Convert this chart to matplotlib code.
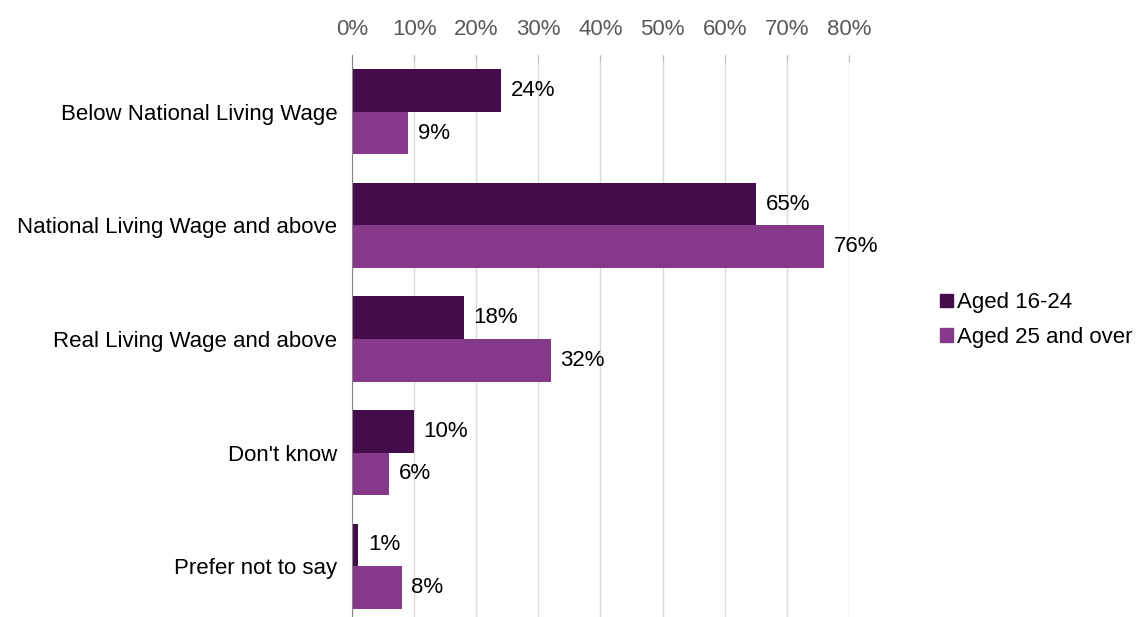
import numpy as np
import matplotlib.pyplot as plt
from matplotlib.patches import Patch

plt.rcParams['font.family'] = ['Liberation Sans', 'DejaVu Sans']

categories = ['Below National Living Wage', 'National Living Wage and above',
              'Real Living Wage and above', "Don't know", 'Prefer not to say']
young = [24, 65, 18, 10, 1]
older = [9, 76, 32, 6, 8]
series_names = ['Aged 16-24', 'Aged 25 and over']
tick_values = [0, 10, 20, 30, 40, 50, 60, 70, 80]

dark = '#440c4b'
light = '#86388a'
fs = 16

fig = plt.figure(figsize=(11.42, 6.17), dpi=100)
ax = fig.add_axes([0.3082, -0.0097, 0.4352, 0.9206])

y = np.arange(len(categories))
h = 0.375
b1 = ax.barh(y - h / 2, young, height=h, color=dark, zorder=3)
b2 = ax.barh(y + h / 2, older, height=h, color=light, zorder=3)

for bars, vals in ((b1, young), (b2, older)):
    for rect, v in zip(bars, vals):
        ax.text(v + 1.55, rect.get_y() + rect.get_height() / 2, f'{v}%',
                va='center', ha='left', fontsize=fs, color='#000000',
                clip_on=False)

ax.set_xlim(0, 80)
ax.set_ylim(len(categories) - 0.5, -0.5)
ax.set_yticks(y)
ax.set_yticklabels(categories, fontsize=fs)
ax.tick_params(axis='y', length=0, pad=10.5)
ax.xaxis.tick_top()
ax.set_xticks(tick_values)
ax.set_xticklabels([f'{t}%' for t in tick_values], fontsize=fs, color='#595959')
ax.tick_params(axis='x', length=5, direction='in', color='#bfbfbf', pad=10.5)
ax.grid(axis='x', color='#d9d9d9', linewidth=1, zorder=0)
for s in ('right', 'bottom', 'top'):
    ax.spines[s].set_visible(False)
ax.spines['left'].set_color('#868686')
ax.spines['left'].set_zorder(4)

handles = [Patch(color=dark), Patch(color=light)]
fig.legend(handles, series_names, loc='upper left', bbox_to_anchor=(0.8157, 0.541),
           frameon=False, fontsize=fs, handlelength=0.55, handleheight=0.55,
           handletextpad=0.2, labelspacing=0.62, borderaxespad=0)

# chart title, sitting just above the top edge so only the descenders show
fig.text(0.045, 1.0 + 5 / 617, 'Hourly pay, by age group (%)', fontsize=16,
         va='baseline', ha='left', color='#000000')

fig.savefig('out.png', dpi=100)
